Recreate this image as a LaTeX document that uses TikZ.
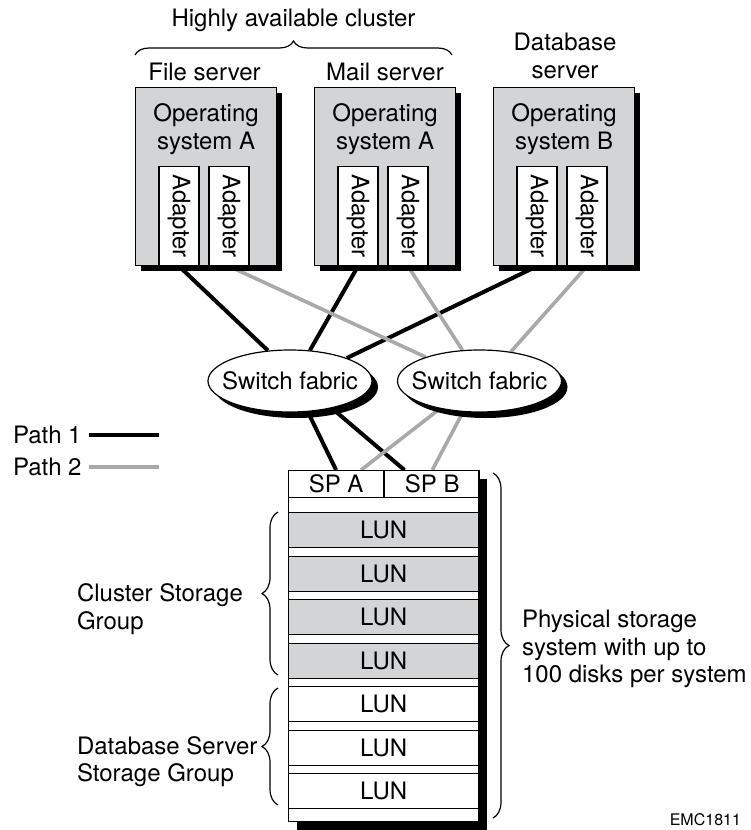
\documentclass[tikz,border=0pt]{standalone}
\usepackage{fontspec}
\setmainfont{TeX Gyre Heros}
\usepackage{tikz}
\usetikzlibrary{positioning,shapes.geometric,shadows,calc,backgrounds,decorations.pathreplacing}

\definecolor{boxgray}{RGB}{211,212,214}
\definecolor{pathgray}{RGB}{168,169,171}

\tikzset{
  shadowblack/.style={drop shadow={shadow xshift=#1, shadow yshift=-#1, fill=black, opacity=1}},
  server/.style={draw, line width=0.6pt, fill=boxgray, anchor=north west,
    minimum width=70.5pt, minimum height=89pt, inner sep=0pt, shadowblack=2.5pt},
  adapter/.style={draw, line width=0.6pt, fill=white, rotate=-90, anchor=east,
    minimum width=49.5pt, minimum height=20pt, inner sep=0pt},
  switch/.style={ellipse, draw, line width=0.6pt, fill=white, inner xsep=-5pt, inner ysep=0pt,
    minimum width=82pt, minimum height=31pt, shadowblack=3pt},
  lun/.style={draw, line width=0.6pt, anchor=north west, inner sep=0pt,
    minimum width=95pt, minimum height=17.5pt},
  path1/.style={line width=2pt, black},
  path2/.style={line width=1.8pt, pathgray},
  grpbrace/.style={decorate, decoration={brace, amplitude=#1}, line width=0.6pt},
}

\begin{document}
\begin{tikzpicture}[x=0.5pt, y=-0.5pt, font=\fontsize{12}{13.75}\selectfont]
    \useasboundingbox (0,0) rectangle (750,830);

    % Cluster label
    \node (cluster) at (293.5,20) {Highly available cluster};
    \draw[grpbrace=7pt] (135,55) -- (452,55);

    % Servers
    \node[server] (file) at (135,87) {};
    \node[server] (mail) at (314,87) {};
    \node[server] (db) at (493,87) {};
    \node (filelbl) at (204.5,72) {File server};
    \node (maillbl) at (385,72) {Mail server};
    \node[align=center] (dblbl) at (565,56) {Database\\server};
    \node[align=center, below=5pt of file.north] (fileos) {Operating\\system A};
    \node[align=center, below=5pt of mail.north] (mailos) {Operating\\system A};
    \node[align=center, below=5pt of db.north] (dbos) {Operating\\system B};

    % Adapters
    \node[adapter] (fa1) at ($(file.south west)+(44,0)$) {Adapter};
    \node[adapter] (fa2) at ($(file.south west)+(94,0)$) {Adapter};
    \node[adapter] (ma1) at ($(mail.south west)+(44,0)$) {Adapter};
    \node[adapter] (ma2) at ($(mail.south west)+(94,0)$) {Adapter};
    \node[adapter] (da1) at ($(db.south west)+(44,0)$) {Adapter};
    \node[adapter] (da2) at ($(db.south west)+(94,0)$) {Adapter};

    % Switches
    \node[switch] (sw1) at (290,381) {Switch fabric};
    \node[switch] (sw2) at (479.5,381) {Switch fabric};

    % Storage system
    \node[draw, line width=0.6pt, fill=white, anchor=north west, inner sep=0pt,
      minimum width=95pt, minimum height=175.5pt, shadowblack=4pt] (store) at (288,470) {};
    \node[draw, line width=0.6pt, anchor=north west, inner sep=0pt,
      minimum width=47.5pt, minimum height=13.5pt] (spa) at (store.north west) {SP A};
    \node[draw, line width=0.6pt, anchor=west, inner sep=0pt,
      minimum width=47.5pt, minimum height=13.5pt] (spb) at (spa.east) {SP B};
    \foreach \i/\c in {1/boxgray,2/boxgray,3/boxgray,4/boxgray,5/white,6/white,7/white}
      \node[lun, fill=\c] (lun\i) at (288,{512+(\i-1)*43.5}) {LUN};

    % Paths
    \begin{scope}[on background layer]
      \draw[path1] (fa1.east) -- (sw1.126.6);
      \draw[path1] (ma1.east) -- (sw1.57);
      \draw[path1] (da1.east) -- (sw1.22);
      \draw[path2] (fa2.east) -- (sw2.156);
      \draw[path2] (ma2.east) -- (sw2.119);
      \draw[path2] (da2.east) -- (sw2.43.5);
      \draw[path1] (sw1.-60) -- (spa.north);
      \draw[path1] (sw1.-33) -- ($(spb.north west)!0.21!(spb.north east)$);
      \draw[path2] (sw2.-145) -- ($(spa.north west)!0.76!(spa.north east)$);
      \draw[path2] (sw2.-118.5) -- (spb.north);
    \end{scope}

    % Legend
    \node[anchor=west] (p1) at (6,435) {Path 1};
    \node[anchor=west] (p2) at (6,467) {Path 2};
    \draw[path1] (p1.east) -- ++(70,0);
    \draw[path2] (p2.east) -- ++(70,0);

    % Groups
    \draw[grpbrace=8pt] (278,675) -- (278,512);
    \draw[grpbrace=8pt] (278,805) -- (278,688);
    \draw[grpbrace=8pt] (493,473) -- (493,818);
    \node[anchor=west, align=left] (clgrp) at (70,609) {Cluster Storage\\Group};
    \node[anchor=west, align=left] (dbgrp) at (70,761.5) {Database Server\\Storage Group};
    \node[anchor=west, align=left] (phys) at (515,649) {Physical storage\\system with up to\\100 disks per system};

    \node[anchor=east, font=\fontsize{8}{9}\selectfont] (emc) at (748,820) {EMC1811};
\end{tikzpicture}
\end{document}
